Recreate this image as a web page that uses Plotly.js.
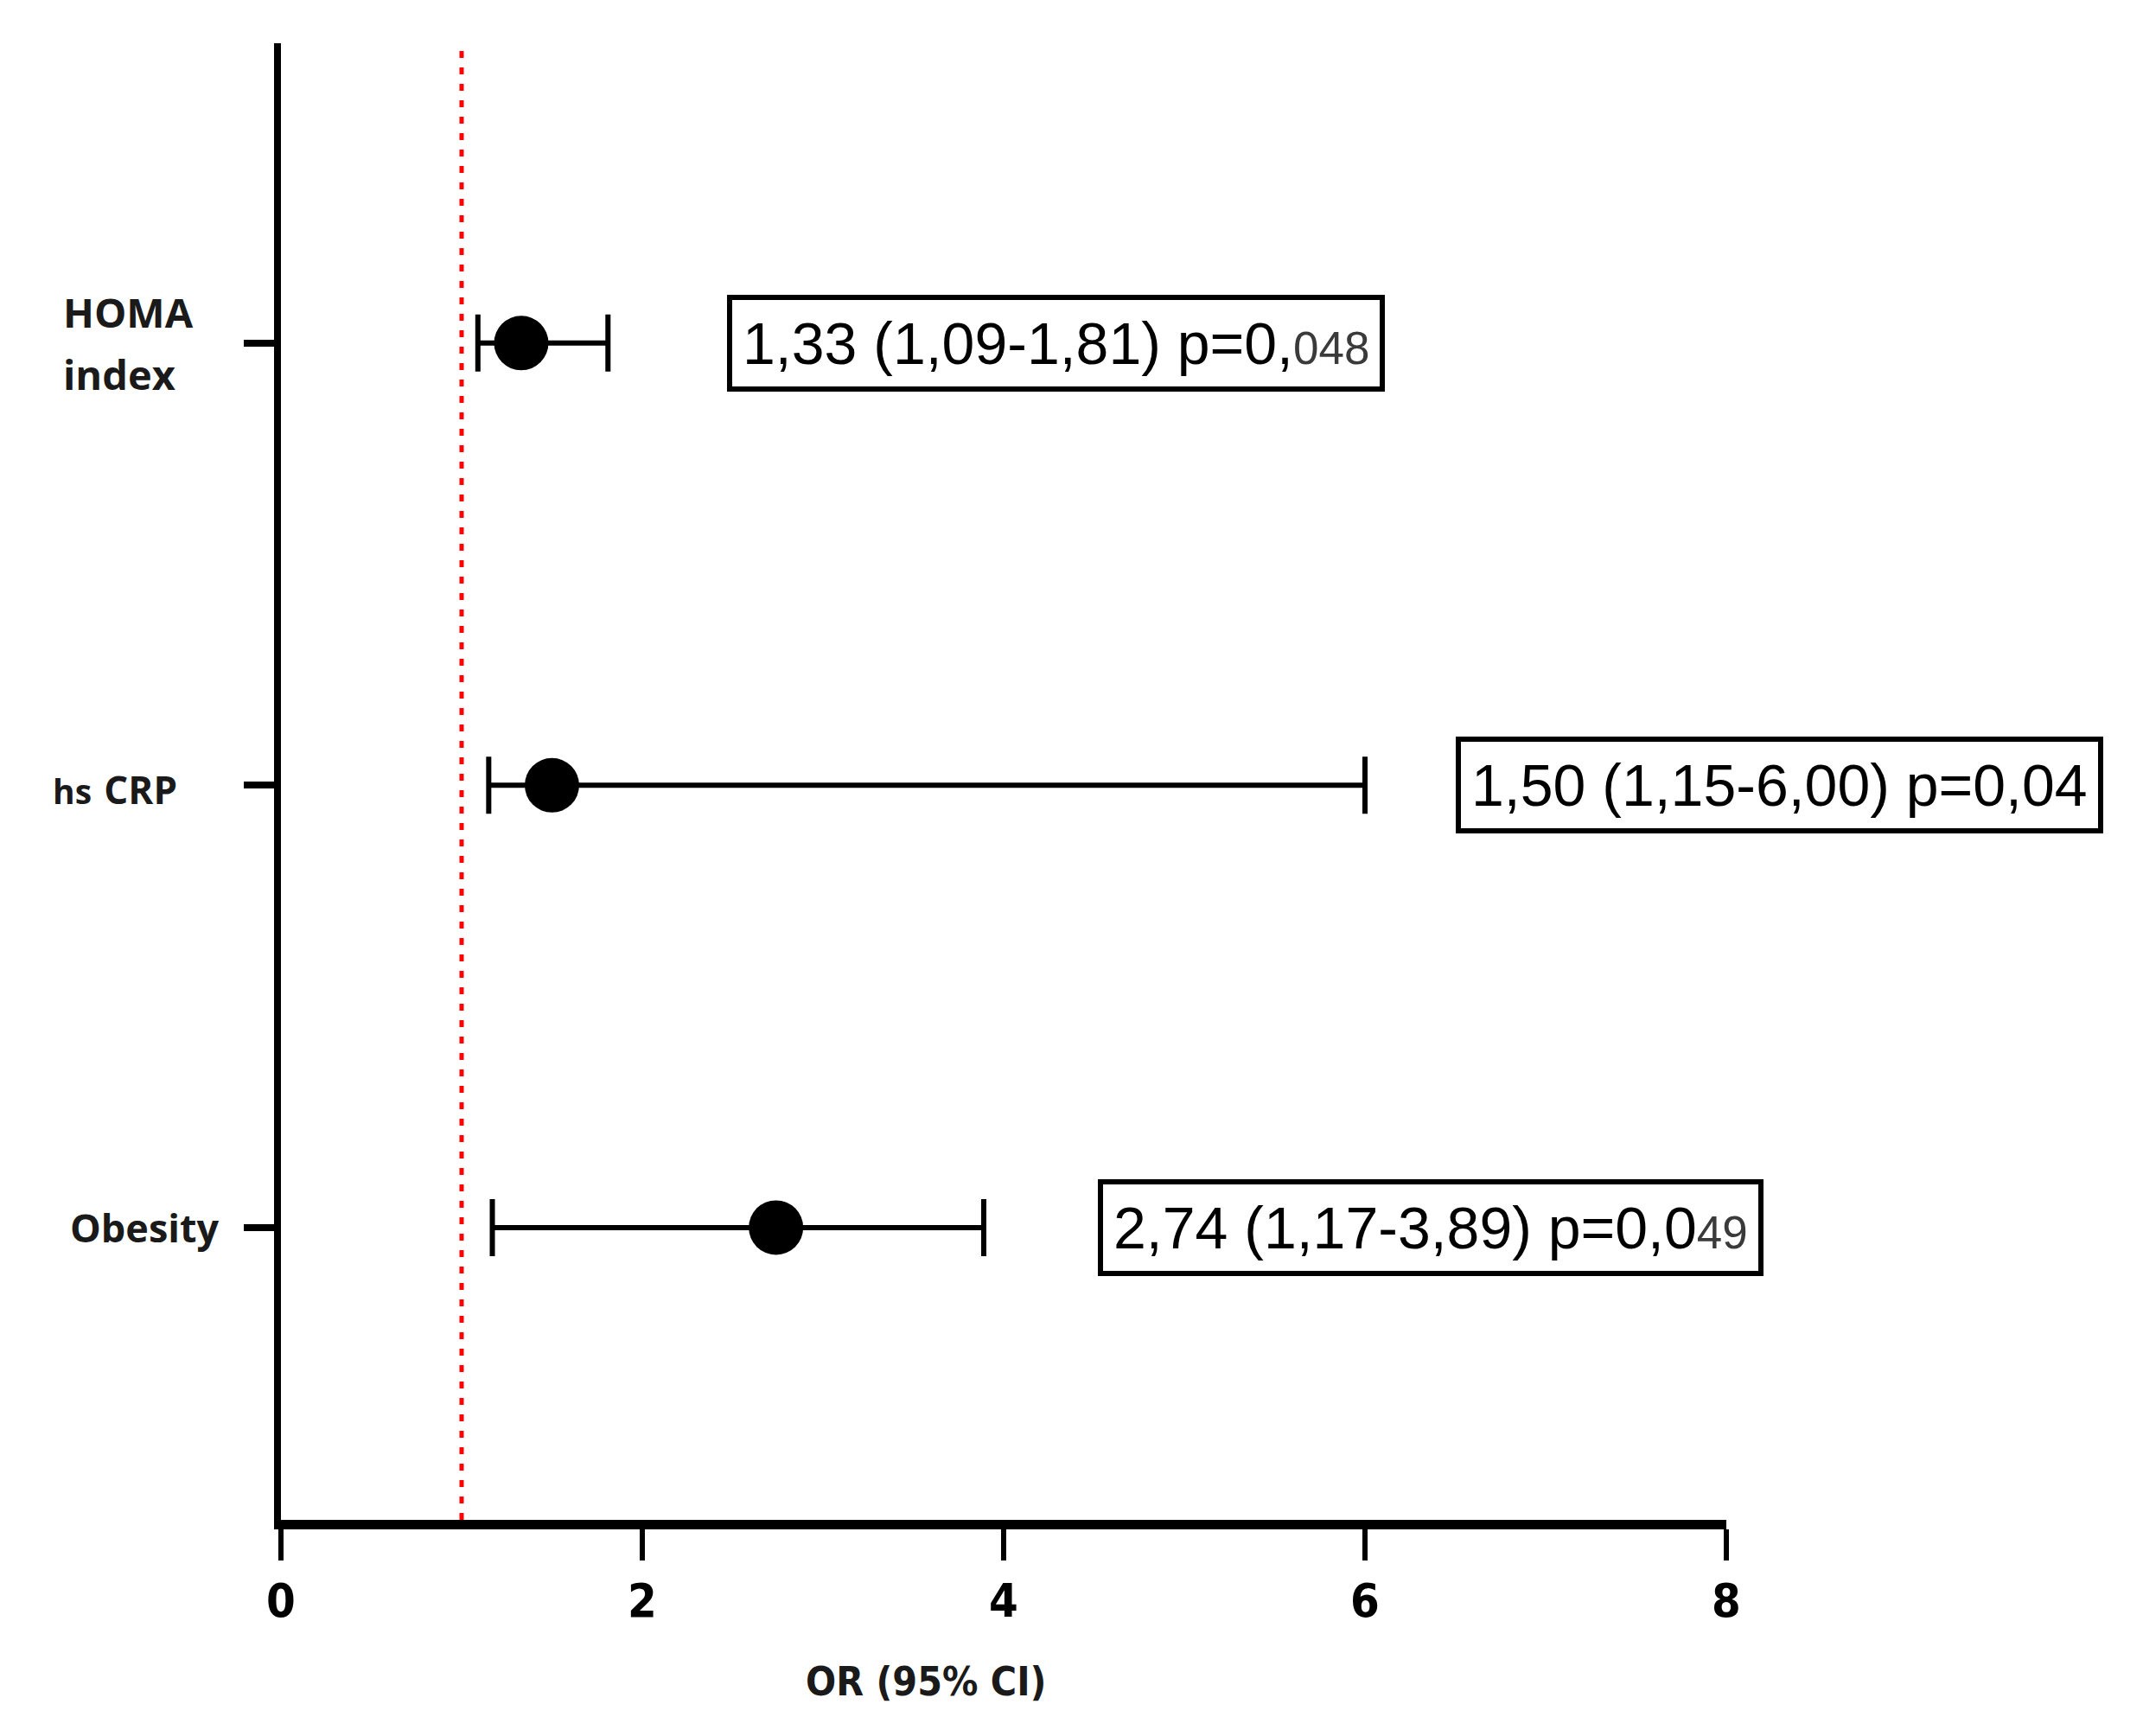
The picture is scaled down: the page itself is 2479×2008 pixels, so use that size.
<!DOCTYPE html>
<html>
<head>
<meta charset="utf-8">
<script src="https://cdn.plot.ly/plotly-3.0.1.min.js"></script>
<style>
  body { margin: 0; background: white; }
  #plot { width: 2479px; height: 2008px; }
</style>
</head>
<body>
<div id="plot"></div>
<script>
// forest plot data
const labels = ['HOMA index', 'hs CRP', 'Obesity'];
const labelHtml = [
  '<span style="font-size:47px">HOMA<br>index</span>',
  '<span style="font-size:39px">hs</span> <span style="font-size:44px">CRP</span>',
  '<span style="font-size:45px">Obesity</span>'
];
const oddsRatio = [1.33, 1.50, 2.74];
const ciLow = [1.09, 1.15, 1.17];
const ciHigh = [1.81, 6.00, 3.89];
const resultText = ['1,33 (1,09-1,81) p=0,', '1,50 (1,15-6,00) p=0,04', '2,74 (1,17-3,89) p=0,0'];
const resultTail = ['048', '', '49'];
const boxLeft = [2.47, 6.50, 4.52];
const labelLeft = [-0.152, -0.159, -0.147];
const xTicks = [0, 2, 4, 6, 8];
const refLine = 1;

const condensed = 'DejaVu Sans Condensed, Liberation Sans Narrow, sans-serif';

const trace = {
  x: oddsRatio,
  y: labels,
  type: 'scatter',
  mode: 'markers',
  marker: { color: 'black', size: 63, symbol: 'circle' },
  error_x: {
    type: 'data',
    symmetric: false,
    array: oddsRatio.map((v, i) => ciHigh[i] - v),
    arrayminus: oddsRatio.map((v, i) => v - ciLow[i]),
    color: 'black',
    thickness: 6,
    width: 33
  },
  hoverinfo: 'skip',
  showlegend: false,
  cliponaxis: false
};

let annotations = [];
labels.forEach((lab, i) => {
  let txt = resultText[i];
  if (resultTail[i] !== '') {
    txt += '<span style="font-size:53px;color:#3a3a3a">' + resultTail[i] + '</span>';
  }
  annotations.push({
    x: boxLeft[i], y: lab, xref: 'x', yref: 'y',
    xanchor: 'left', yanchor: 'middle',
    text: txt, showarrow: false,
    font: { family: 'Liberation Sans, Arial, sans-serif', size: 68, color: 'black' },
    bordercolor: 'black', borderwidth: 6, borderpad: 12, bgcolor: 'white'
  });
  // bigger outer size gives the wider line spacing of the two-line label
  annotations.push({
    x: labelLeft[i], y: lab, xref: 'paper', yref: 'y',
    xanchor: 'left', yanchor: 'middle', align: 'left',
    text: labelHtml[i], showarrow: false,
    font: { family: 'Open Sans, sans-serif', size: 55, color: '#1a1a1a', weight: 'bold' }
  });
});

// axis title sits left of the plot centre in the original
annotations.push({
  x: 0.446, y: -0.1095, xref: 'paper', yref: 'paper',
  xanchor: 'center', yanchor: 'middle',
  text: 'OR (95% CI)', showarrow: false,
  font: { family: condensed, size: 46, color: '#1a1a1a', weight: 'bold' }
});

const layout = {
  width: 2479,
  height: 2008,
  margin: { l: 325, r: 482, t: 50, b: 250 },
  paper_bgcolor: 'white',
  plot_bgcolor: 'white',
  showlegend: false,
  xaxis: {
    range: [0, 8],
    tickvals: xTicks,
    ticktext: xTicks.map(String),
    showgrid: false,
    zeroline: false,
    showline: true,
    linecolor: 'black',
    linewidth: 11,
    ticks: 'outside',
    ticklen: 36,
    tickwidth: 6,
    tickcolor: 'black',
    tickfont: { family: condensed, size: 54, color: 'black', weight: 'bold' }
  },
  yaxis: {
    type: 'category',
    categoryorder: 'array',
    categoryarray: labels.slice().reverse(),
    range: [-0.661, 2.678],
    showgrid: false,
    zeroline: false,
    showline: true,
    linecolor: 'black',
    linewidth: 8,
    ticks: 'outside',
    ticklen: 35,
    tickwidth: 8,
    tickcolor: 'black',
    showticklabels: false
  },
  shapes: [{
    type: 'line', xref: 'x', yref: 'paper',
    x0: refLine, x1: refLine, y0: 0, y1: 0.995,
    line: { color: 'red', width: 5, dash: '8px,11px' }
  }],
  annotations: annotations
};

Plotly.newPlot('plot', [trace], layout, { staticPlot: true });
</script>
</body>
</html>
